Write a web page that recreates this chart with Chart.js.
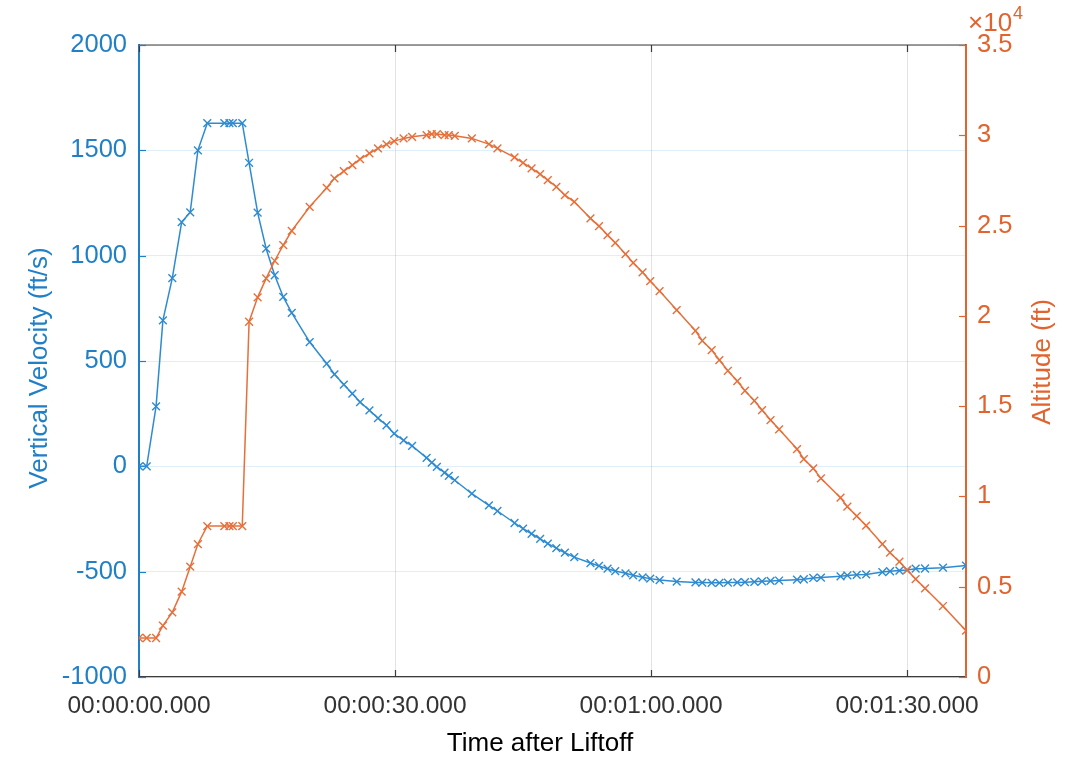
<!DOCTYPE html>
<html>
<head>
<meta charset="utf-8">
<script src="https://cdn.jsdelivr.net/npm/chart.js@4.4.1/dist/chart.umd.min.js"></script>
<style>
html,body{margin:0;padding:0;background:#ffffff;}
#wrap{width:1076px;height:769px;position:relative;}
canvas{display:block;}
</style>
</head>
<body>
<div id="wrap"><canvas id="chart" width="1076" height="769"></canvas></div>
<script>
// ---- data ----
const timeSeconds = [
  0, 0.9, 2.0, 2.8, 3.9, 5.0, 6.0, 6.9, 8.0, 10.0,
  10.6, 11.0, 12.1, 12.9, 13.9, 14.9, 15.9, 16.9, 17.9, 20.0,
  22.0, 22.9, 24.0, 25.0, 25.9, 27.0, 28.0, 29.0, 29.9, 31.0,
  32.0, 33.7, 34.3, 34.9, 35.8, 36.3, 37.0, 39.0, 41.0, 42.0,
  44.0, 45.0, 46.0, 47.0, 47.9, 48.9, 49.9, 51.0, 52.9, 53.9,
  54.9, 55.8, 57.0, 57.9, 59.0, 59.9, 61.0, 63.0, 65.2, 66.0,
  67.1, 68.0, 69.0, 70.1, 71.0, 72.1, 73.0, 74.0, 75.0, 77.1,
  77.9, 79.0, 79.9, 82.2, 83.0, 84.1, 85.2, 87.1, 88.0, 89.1,
  90.0, 91.0, 92.1, 94.2, 96.9
];
const verticalVelocity = [
  0, 0, 285, 693, 893, 1159, 1206, 1500, 1629, 1629,
  1629, 1629, 1629, 1441, 1204, 1033, 907, 804, 728, 590,
  487, 437, 388, 345, 305, 266, 229, 195, 155, 123,
  97, 40, 18, -3, -30, -45, -66, -130, -185, -212,
  -269, -296, -320, -344, -367, -388, -410, -431, -459, -473,
  -486, -497, -508, -517, -527, -533, -540, -547, -551, -552,
  -553, -553, -552, -551, -550, -548, -546, -544, -542, -538,
  -536, -530, -528, -522, -518, -515, -513, -502, -498, -495,
  -492, -486, -485, -481, -471
];
const altitudeFt = [
  2160, 2160, 2160, 2842, 3581, 4725, 6108, 7364, 8361, 8361,
  8361, 8361, 8361, 19674, 21024, 22076, 23051, 23920, 24712, 26041,
  27093, 27613, 28017, 28349, 28682, 28998, 29273, 29495, 29678, 29828,
  29916, 30010, 30066, 30066, 30010, 30010, 29973, 29828, 29513, 29273,
  28775, 28477, 28164, 27852, 27519, 27148, 26688, 26318, 25398, 24972,
  24474, 24047, 23421, 22940, 22408, 21927, 21373, 20321, 19175, 18621,
  18106, 17552, 16959, 16389, 15852, 15299, 14784, 14230, 13715, 12624,
  12071, 11554, 11000, 9928, 9430, 8915, 8378, 7364, 6883, 6385,
  5924, 5426, 4911, 3931, 2564
];
const xTickSeconds = [0, 30, 60, 90];
const velocityTicks = [-1000, -500, 0, 500, 1000, 1500, 2000];
const altitudeTicks = [0, 5000, 10000, 15000, 20000, 25000, 30000, 35000];
const altitudeExponent = 4;
const xTitle = 'Time after Liftoff';
const leftTitle = 'Vertical Velocity (ft/s)';
const rightTitle = 'Altitude (ft)';

// ---- styles ----
const BLUE = '#1f7fc7';
const BLUE_LINE = '#2e8bd1';
const ORANGE = '#e2632d';
const ORANGE_LINE = '#e76f3a';
const AXIS_DARK = '#3c3c3c';
const FONT = "'Liberation Sans', Arial, Helvetica, sans-serif";
const TITLE_SIZE = 26;

function fmtTime(sec) {
  const s = Math.round(sec);
  const hh = String(Math.floor(s / 3600)).padStart(2, '0');
  const mm = String(Math.floor((s % 3600) / 60)).padStart(2, '0');
  const ss = String(s % 60).padStart(2, '0');
  return hh + ':' + mm + ':' + ss + '.000';
}

const velPoints = timeSeconds.map((t, i) => ({x: t, y: verticalVelocity[i]}));
const altPoints = timeSeconds.map((t, i) => ({x: t, y: altitudeFt[i]}));

const TICK_LEN = 7;

const axesDecor = {
  id: 'axesDecor',
  beforeDatasetsDraw(chart) {
    const {ctx, chartArea: a, scales} = chart;
    ctx.save();
    ctx.strokeStyle = AXIS_DARK;
    ctx.lineWidth = 1.2;
    ctx.beginPath();
    ctx.moveTo(a.left, a.top);
    ctx.lineTo(a.right, a.top);
    ctx.stroke();
    scales.x.ticks.forEach(tk => {
      const px = Math.round(scales.x.getPixelForValue(tk.value)) + 0.5;
      ctx.beginPath();
      ctx.moveTo(px, a.bottom);
      ctx.lineTo(px, a.bottom - TICK_LEN);
      ctx.moveTo(px, a.top);
      ctx.lineTo(px, a.top + TICK_LEN);
      ctx.stroke();
    });
    ctx.strokeStyle = BLUE;
    scales.y.ticks.forEach(tk => {
      const py = Math.round(scales.y.getPixelForValue(tk.value)) + 0.5;
      ctx.beginPath();
      ctx.moveTo(a.left, py);
      ctx.lineTo(a.left + TICK_LEN, py);
      ctx.stroke();
    });
    ctx.strokeStyle = ORANGE;
    scales.y1.ticks.forEach(tk => {
      const py = Math.round(scales.y1.getPixelForValue(tk.value)) + 0.5;
      ctx.beginPath();
      ctx.moveTo(a.right, py);
      ctx.lineTo(a.right - TICK_LEN, py);
      ctx.stroke();
    });
    ctx.restore();
  },
  afterDraw(chart) {
    const {ctx, chartArea: a} = chart;
    ctx.save();
    // exponent label of the right axis
    ctx.fillStyle = ORANGE;
    ctx.textBaseline = 'alphabetic';
    ctx.textAlign = 'left';
    ctx.font = '26px ' + FONT;
    const base = '\u00d710';
    const x0 = a.right + 2;
    ctx.fillText(base, x0, 31);
    const w = ctx.measureText(base).width;
    ctx.font = '18px ' + FONT;
    ctx.fillText(String(altitudeExponent), x0 + w + 1, 19);

    // axis titles
    ctx.font = TITLE_SIZE + 'px ' + FONT;
    ctx.textAlign = 'center';
    ctx.textBaseline = 'alphabetic';
    ctx.fillStyle = '#000000';
    ctx.fillText(xTitle, 540, 751);
    ctx.save();
    ctx.translate(47, 368);
    ctx.rotate(-Math.PI / 2);
    ctx.fillStyle = BLUE;
    ctx.fillText(leftTitle, 0, 0);
    ctx.restore();
    ctx.save();
    ctx.translate(1050, 362);
    ctx.rotate(-Math.PI / 2);
    ctx.fillStyle = ORANGE;
    ctx.fillText(rightTitle, 0, 0);
    ctx.restore();
    ctx.restore();
  }
};

new Chart(document.getElementById('chart'), {
  type: 'line',
  data: {
    datasets: [
      {
        label: 'Vertical Velocity',
        data: velPoints,
        yAxisID: 'y',
        borderColor: BLUE_LINE,
        backgroundColor: BLUE_LINE,
        borderWidth: 1.5,
        pointStyle: 'crossRot',
        pointRadius: 5.5,
        pointBorderWidth: 1.4,
        pointBorderColor: BLUE_LINE,
        tension: 0,
        fill: false,
        order: 1
      },
      {
        label: 'Altitude',
        data: altPoints,
        yAxisID: 'y1',
        borderColor: ORANGE_LINE,
        backgroundColor: ORANGE_LINE,
        borderWidth: 1.5,
        pointStyle: 'crossRot',
        pointRadius: 5.5,
        pointBorderWidth: 1.4,
        pointBorderColor: ORANGE_LINE,
        tension: 0,
        fill: false,
        order: 0
      }
    ]
  },
  options: {
    responsive: false,
    animation: false,
    devicePixelRatio: 1,
    layout: {padding: {top: 45, left: 0, right: 0, bottom: 0}},
    plugins: {legend: {display: false}, tooltip: {enabled: false}},
    scales: {
      x: {
        type: 'linear',
        position: 'bottom',
        min: timeSeconds[0],
        max: timeSeconds[timeSeconds.length - 1],
        afterBuildTicks: s => { s.ticks = xTickSeconds.map(v => ({value: v})); },
        afterFit: s => { s.height = 92; },
        grid: {color: 'rgba(38,38,38,0.13)', lineWidth: 1, drawTicks: false},
        border: {color: AXIS_DARK, width: 1.2},
        ticks: {
          autoSkip: false, maxRotation: 0, padding: 15,
          color: '#333333', font: {family: FONT, size: 24.5},
          callback: v => fmtTime(v)
        },
        title: {display: false}
      },
      y: {
        type: 'linear',
        position: 'left',
        min: velocityTicks[0],
        max: velocityTicks[velocityTicks.length - 1],
        afterBuildTicks: s => { s.ticks = velocityTicks.map(v => ({value: v})); },
        afterFit: s => { s.width = 139; },
        grid: {color: 'rgba(0,114,189,0.12)', lineWidth: 1, drawTicks: false},
        border: {color: BLUE, width: 2},
        ticks: {padding: 12, color: BLUE, font: {family: FONT, size: 25.5}, callback: v => String(v)},
        title: {display: false}
      },
      y1: {
        type: 'linear',
        position: 'right',
        min: altitudeTicks[0],
        max: altitudeTicks[altitudeTicks.length - 1],
        afterBuildTicks: s => { s.ticks = altitudeTicks.map(v => ({value: v})); },
        afterFit: s => { s.width = 110; },
        grid: {display: false, drawTicks: false},
        border: {color: ORANGE, width: 2},
        ticks: {padding: 11, color: ORANGE, font: {family: FONT, size: 25.5}, callback: v => String(v / Math.pow(10, altitudeExponent))},
        title: {display: false}
      }
    }
  },
  plugins: [axesDecor]
});
</script>
</body>
</html>
